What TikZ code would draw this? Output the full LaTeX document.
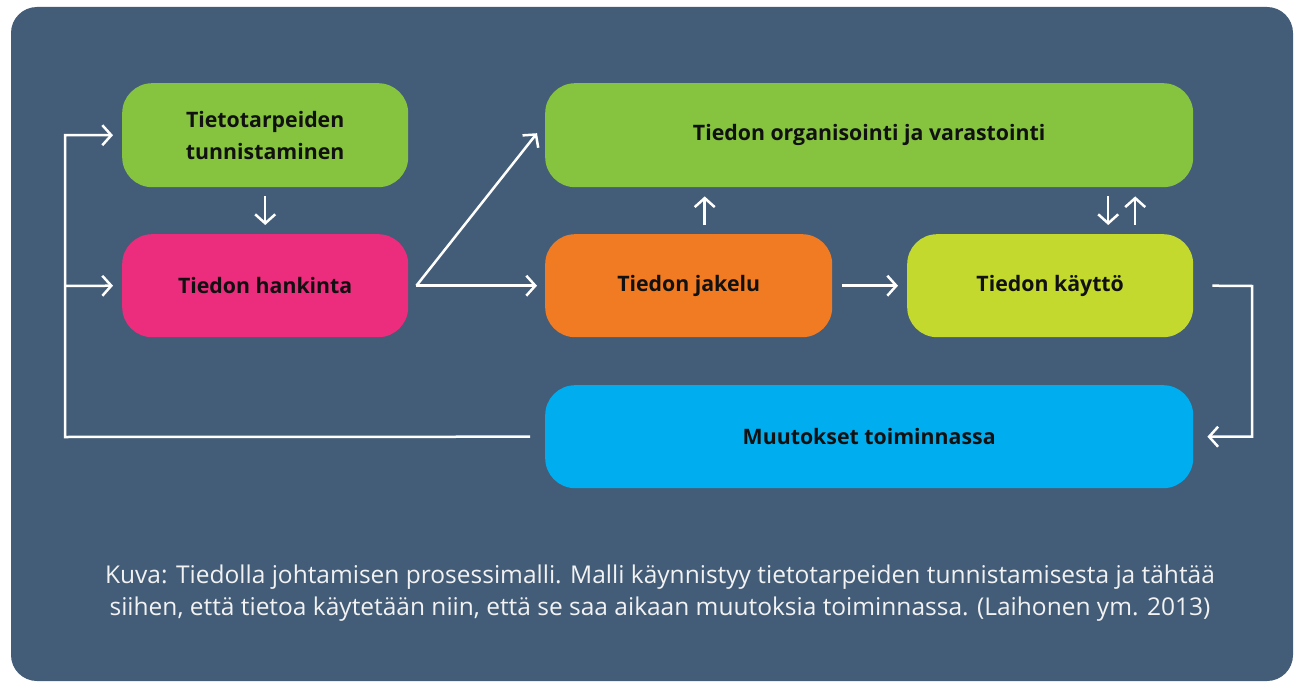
\documentclass[tikz,border=0pt]{standalone}
\usepackage{fontspec}
\setmainfont{Open Sans}
\usetikzlibrary{arrows.meta,calc}
\definecolor{bgc}{HTML}{435D78}
\definecolor{cgreen}{HTML}{86C440}
\definecolor{cpink}{HTML}{EC2C7D}
\definecolor{corange}{HTML}{F07B22}
\definecolor{clime}{HTML}{C3D92E}
\definecolor{cblue}{HTML}{00AEEF}
\definecolor{ctext}{HTML}{111111}
\definecolor{ccap}{HTML}{F2F2F2}
\tikzset{
  box/.style={rectangle, rounded corners=30pt, anchor=north west, inner sep=0pt,
    font=\fontsize{21.3}{32}\selectfont\bfseries, text=ctext, align=center},
  arr/.style={draw=white, line width=2.5pt, -{Straight Barb[length=9pt,width=20pt,line width=2.5pt]}},
}
\begin{document}
\begin{tikzpicture}[x=1pt,y=-1pt]
\useasboundingbox (0,0) rectangle (1294,682);
\fill[white] (0,0) rectangle (1294,682);
\fill[bgc, rounded corners=26pt] (11,7) rectangle (1293,681);

\node[box, fill=cgreen, minimum width=286pt, minimum height=104pt] (t) at (122,83) {Tietotarpeiden\\tunnistaminen};
\node[box, fill=cpink, minimum width=286pt, minimum height=103pt] (h) at (122,234) {Tiedon hankinta};
\node[box, fill=cgreen, minimum width=648pt, minimum height=104pt] (o) at (545,83) {Tiedon organisointi ja varastointi};
\node[box, fill=corange, minimum width=287pt, minimum height=103pt] (j) at (545,234) {Tiedon jakelu};
\node[box, fill=clime, minimum width=286pt, minimum height=103pt] (k) at (907,234) {Tiedon käyttö};
\node[box, fill=cblue, minimum width=648pt, minimum height=103pt] (m) at (545,385) {Muutokset toiminnassa};

\node[font=\fontsize{24.5}{31.5}\selectfont, text=ccap, align=center, anchor=center] (cap) at (660,593)
  {Kuva: Tiedolla johtamisen prosessimalli. Malli käynnistyy tietotarpeiden tunnistamisesta ja tähtää\\
   siihen, että tietoa käytetään niin, että se saa aikaan muutoksia toiminnassa. (Laihonen ym. 2013)};

% feedback loop
\coordinate (L) at (65,437);
\coordinate (Lh) at (65,286);
\draw[arr] ([xshift=-15pt]m.west) -- (L) |- ([xshift=-9pt]t.west);
\draw[arr] (Lh) -- ([xshift=-9pt]h.west);
% down arrow
\draw[arr, shorten <=9pt, shorten >=9pt] (t.south) -- (h.north);
% from hankinta
\coordinate (hs) at ([xshift=8pt]h.east);
\draw[arr] (hs) -- ([shift={(-8pt,2pt)}]o.west);
\draw[arr] (hs) -- ([xshift=-8pt]j.west);
% up from jakelu
\draw[arr, shorten <=9pt, shorten >=9pt] ([xshift=16pt]j.north) -- ([xshift=16pt]j.north |- o.south);
% jakelu to kaytto
\draw[arr, shorten <=10pt, shorten >=9pt] (j.east) -- (k.west);
% kaytto <-> organisointi
\draw[arr, shorten <=9pt, shorten >=9pt] ([xshift=58pt]k.north |- o.south) -- ([xshift=58pt]k.north);
\draw[arr, shorten <=9pt, shorten >=9pt] ([xshift=85pt]k.north) -- ([xshift=85pt]k.north |- o.south);
% kaytto to muutokset
\coordinate (R) at (1252,286);
\draw[arr] ([xshift=19pt]k.east) -- (R) |- ([xshift=14pt]m.east);
\end{tikzpicture}
\end{document}
